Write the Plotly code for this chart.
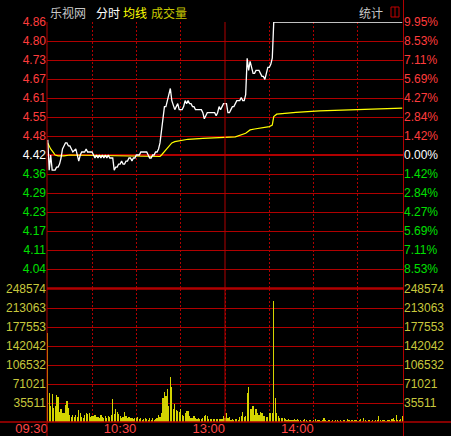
import plotly.graph_objects as go

# ---------------- data ----------------
prev_close = 4.42
limit_price = 4.86
stock_name = "乐视网"

price_labels = ["4.86", "4.80", "4.73", "4.67", "4.61", "4.55", "4.48",
                "4.42", "4.36", "4.29", "4.23", "4.17", "4.11", "4.04"]
pct_labels = ["9.95%", "8.53%", "7.11%", "5.69%", "4.27%", "2.84%", "1.42%",
              "0.00%", "1.42%", "2.84%", "4.27%", "5.69%", "7.11%", "8.53%"]
vol_labels = ["248574", "213063", "177553", "142042", "106532", "71021", "35511"]
time_labels = ["09:30", "10:30", "13:00", "14:00"]
time_label_minutes = [0, 60, 120, 180]

# minute index (0..240) / price of the white price line
price_minutes = [0, 1, 2, 3, 5, 6, 7, 8, 9, 10, 11, 12, 13, 14, 15, 16, 17, 19, 20, 21,
                 22, 23, 25, 26, 27, 29, 30, 31, 32, 33, 34, 35, 36, 37, 38, 39, 40, 41,
                 42, 43, 44, 45, 46, 47, 48, 49, 50, 51, 52, 53, 54, 55, 56, 57, 58, 59,
                 60, 61, 62, 63, 66, 67, 68, 69, 70, 71, 72, 73, 74, 75, 76, 77, 78, 79,
                 80, 81, 82, 83, 84, 85, 86, 87, 88, 89, 90, 91, 92, 93, 94, 95, 96, 97,
                 98, 99, 100, 101, 102, 103, 104, 105, 106, 107, 108, 109, 110, 111, 112,
                 113, 114, 115, 116, 117, 118, 119, 120, 121, 122, 123, 124, 125, 126, 127,
                 128, 129, 130, 131, 132, 133, 134, 135, 136, 137, 138, 139, 140, 141, 142,
                 143, 144, 145, 146, 147, 148, 149, 150, 151, 152, 153, 240]
price_values = [4.47, 4.37, 4.42, 4.37, 4.37, 4.38, 4.38, 4.39, 4.41, 4.44, 4.45, 4.46, 4.46,
                4.45, 4.45, 4.44, 4.43, 4.44, 4.42, 4.40, 4.42, 4.43, 4.43, 4.44, 4.43, 4.43,
                4.43, 4.42, 4.41, 4.42, 4.41, 4.42, 4.41, 4.42, 4.41, 4.42, 4.41, 4.42, 4.41,
                4.41, 4.41, 4.37, 4.38, 4.38, 4.39, 4.39, 4.40, 4.39, 4.39, 4.40, 4.40, 4.41,
                4.41, 4.40, 4.41, 4.41, 4.42, 4.42, 4.42, 4.43, 4.43, 4.43, 4.42, 4.41, 4.41,
                4.42, 4.42, 4.43, 4.43, 4.44, 4.46, 4.50, 4.55, 4.58, 4.58, 4.60, 4.61, 4.64,
                4.60, 4.58, 4.57, 4.58, 4.59, 4.57, 4.57, 4.57, 4.58, 4.60, 4.59, 4.60, 4.59,
                4.59, 4.58, 4.58, 4.57, 4.57, 4.57, 4.57, 4.57, 4.56, 4.54, 4.55, 4.56, 4.56,
                4.56, 4.56, 4.56, 4.56, 4.55, 4.56, 4.58, 4.57, 4.58, 4.59, 4.59, 4.59, 4.56,
                4.56, 4.57, 4.58, 4.58, 4.59, 4.60, 4.60, 4.60, 4.61, 4.60, 4.60, 4.62, 4.74,
                4.70, 4.73, 4.71, 4.69, 4.69, 4.70, 4.70, 4.70, 4.69, 4.68, 4.68, 4.67, 4.69,
                4.71, 4.71, 4.72, 4.74, 4.86, 4.86]

# yellow average-price line
avg_minutes = [0, 2, 4, 5, 7, 11, 15, 60, 76, 77, 80, 82, 84, 86, 90, 95, 105, 113, 120,
               127, 134, 137, 140, 145, 150, 152, 153, 155, 157, 162, 168, 184, 202, 223, 240]
avg_values = [4.46, 4.44, 4.427, 4.42, 4.417, 4.417, 4.42, 4.418, 4.415, 4.42, 4.437, 4.447,
              4.46, 4.464, 4.467, 4.472, 4.475, 4.477, 4.478, 4.48, 4.492, 4.503, 4.506,
              4.51, 4.514, 4.519, 4.547, 4.555, 4.556, 4.558, 4.561, 4.566, 4.569, 4.572, 4.575]

# per-minute volume, minutes 0..240
volumes = [
    166000, 55000, 30000, 52000, 26000, 30000, 50000, 47000, 19000, 24000,
    17000, 17000, 32000, 39000, 26000, 13000, 9000, 14000, 10000, 13000,
    10000, 22000, 17000, 10000, 8000, 13000, 17000, 15000, 17000, 10000,
    11000, 11000, 13000, 9000, 10000, 8000, 13000, 10000, 8000, 11000,
    8000, 11000, 10000, 13000, 43000, 15000, 24000, 19000, 15000, 11000,
    7000, 10000, 19000, 11000, 8000, 9000, 8000, 8000, 6000, 7000,
    8000, 9000, 6000, 8000, 3000, 6000, 8000, 5000, 4000, 8000,
    3000, 8000, 4000, 5000, 8000, 13000, 10000, 16000, 45000, 57000,
    49000, 62000, 30000, 84000, 65000, 24000, 33000, 22000, 21000, 19000,
    24000, 14000, 12000, 16000, 21000, 21000, 12000, 7000, 8000, 11000,
    7000, 5000, 7000, 5000, 5000, 8000, 12000, 14000, 11000, 5000,
    5000, 6000, 5000, 6000, 5000, 6000, 6000, 5000, 5000, 11000,
    8000, 16000, 8000, 9000, 3000, 5000, 3000, 6000, 5000, 4000,
    9000, 11000, 19000, 9000, 11000, 54000, 65000, 25000, 25000, 30000,
    14000, 25000, 17000, 14000, 19000, 16000, 11000, 11000, 9000, 9000,
    16000, 17000, 16000, 226000, 44000, 17000, 11000, 8000, 8000, 8000,
    7000, 6000, 3000, 6000, 4000, 3000, 3000, 6000, 3000, 6000,
    3000, 4000, 2000, 3000, 5000, 3000, 2000, 4000, 3000, 2000,
    3000, 5000, 2000, 3000, 4000, 2000, 3000, 8000, 3000, 2000,
    4000, 3000, 2000, 3000, 2000, 4000, 3000, 2000, 3000, 2000,
    3000, 4000, 2000, 6000, 3000, 2000, 3000, 2000, 4000, 3000,
    2000, 3000, 5000, 2000, 8000, 3000, 2000, 3000, 4000, 2000,
    3000, 2000, 4000, 3000, 11000, 3000, 2000, 4000, 3000, 2000,
    4000, 3000, 2000, 5000, 8000, 3000, 14000, 4000, 3000, 5000,
    11000,
]
minutes = list(range(len(volumes)))

# ---------------- styling ----------------
W, H = 451, 436
RED = "#b00000"
UP = "#ff3c3c"
DOWN = "#00e000"
VOLC = "#c8c83c"
FONT = "Liberation Sans, Arial, sans-serif"
CJK = "Noto Sans CJK SC, sans-serif"


def px(x):
    return x / W


def py(y):
    return 1 - y / H


xdom = [px(47), px(403)]
price_dom = [py(288), py(22)]
vol_dom = [py(422), py(289)]

step = (limit_price - prev_close) / 7
price_ticks = [prev_close + k * step for k in range(7, -7, -1)]
price_bottom = prev_close - (limit_price - prev_close)


def colour(i):
    if i < 7:
        return UP
    if i == 7:
        return "#ffffff"
    return DOWN


left_text = [f"<span style='color:{colour(i)}'>{t}</span>" for i, t in enumerate(price_labels)]
right_text = [f"<span style='color:{colour(i)}'>{t}</span>" for i, t in enumerate(pct_labels)]
vol_ticks = [int(v) for v in vol_labels]

grid_minutes = list(range(0, 241, 30))
time_text = []
for m in grid_minutes:
    time_text.append(time_labels[time_label_minutes.index(m)] if m in time_label_minutes else "")

fig = go.Figure()
fig.add_trace(go.Bar(x=minutes, y=volumes, xaxis="x2", yaxis="y3",
                     marker=dict(color="#d4d400", line=dict(width=0)), width=0.8,
                     hoverinfo="skip", showlegend=False))
fig.add_trace(go.Scatter(x=avg_minutes, y=avg_values, mode="lines", xaxis="x", yaxis="y",
                         line=dict(color="#ffff00", width=1.2), showlegend=False))
fig.add_trace(go.Scatter(x=price_minutes, y=price_values, mode="lines", xaxis="x", yaxis="y",
                         line=dict(color="#ffffff", width=1.3), showlegend=False))
# invisible carriers so the right-hand axes are drawn
fig.add_trace(go.Scatter(x=[minutes[0]], y=[prev_close], mode="markers", xaxis="x", yaxis="y2",
                         marker=dict(opacity=0), hoverinfo="skip", showlegend=False))
fig.add_trace(go.Scatter(x=[minutes[0]], y=[0], mode="markers", xaxis="x2", yaxis="y4",
                         marker=dict(opacity=0), hoverinfo="skip", showlegend=False))

xcommon = dict(domain=xdom, range=[-0.5, 240.5], showgrid=True, gridcolor=RED, gridwidth=1,
               griddash="2px,2px", zeroline=False, showline=False, ticks="", fixedrange=True,
               automargin=False)
ycommon = dict(zeroline=False, showline=False, ticks="", automargin=False, fixedrange=True)

fig.update_layout(
    template="none",
    width=W, height=H,
    margin=dict(l=0, r=0, t=0, b=0, pad=0, autoexpand=False),
    paper_bgcolor="black", plot_bgcolor="black",
    font=dict(family=FONT, size=12, color="white"),
    showlegend=False,
    bargap=0,
    hovermode=False,
    xaxis=dict(anchor="y", tickvals=[30, 60, 90, 150, 180, 210], showticklabels=False, **xcommon),
    xaxis2=dict(anchor="free", position=py(418.5), tickvals=grid_minutes, ticktext=time_text,
                ticklabelposition="outside left",
                tickfont=dict(family=FONT, size=13, color="#ff4646"), **xcommon),
    yaxis=dict(domain=price_dom, range=[price_bottom, limit_price], anchor="x",
               tickvals=price_ticks + [price_bottom], ticktext=left_text + [""],
               showgrid=True, gridcolor=RED, gridwidth=1,
               tickfont=dict(family=FONT, size=12), **ycommon),
    yaxis2=dict(overlaying="y", side="right", anchor="x", range=[price_bottom, limit_price],
                tickvals=price_ticks, ticktext=right_text, showgrid=False,
                tickfont=dict(family=FONT, size=12), **ycommon),
    yaxis3=dict(domain=vol_dom, range=[0, vol_ticks[0]], anchor="x2",
                tickvals=vol_ticks, ticktext=vol_labels, showgrid=True, gridcolor=RED,
                gridwidth=1, tickfont=dict(family=FONT, size=12, color=VOLC), **ycommon),
    yaxis4=dict(overlaying="y3", side="right", anchor="x2", range=[0, vol_ticks[0]],
                tickvals=vol_ticks, ticktext=vol_labels, showgrid=False,
                tickfont=dict(family=FONT, size=12, color=VOLC), **ycommon),
)

shapes = [
    # frame lines
    dict(type="line", xref="paper", yref="paper", x0=px(47), x1=px(47), y0=py(22), y1=py(436),
         line=dict(color=RED, width=1)),
    dict(type="line", xref="paper", yref="paper", x0=px(403.5), x1=px(403.5), y0=py(0), y1=py(436),
         line=dict(color=RED, width=1)),
    dict(type="line", xref="paper", yref="paper", x0=0, x1=1, y0=py(422), y1=py(422),
         line=dict(color=RED, width=1.5)),
    dict(type="line", xref="paper", yref="paper", x0=xdom[0], x1=xdom[1], y0=py(288.5), y1=py(288.5),
         line=dict(color=RED, width=2.5)),
    # midday separator
    dict(type="line", xref="x", yref="paper", x0=120, x1=120, y0=py(422), y1=py(22),
         line=dict(color=RED, width=1)),
    # previous close line
    dict(type="line", xref="paper", yref="y", x0=xdom[0], x1=xdom[1], y0=prev_close, y1=prev_close,
         line=dict(color=RED, width=2), layer="below"),
    # small icon next to 统计
    dict(type="rect", xref="paper", yref="paper", x0=px(391), x1=px(399), y0=py(17), y1=py(7),
         line=dict(color="#c00000", width=1)),
    dict(type="line", xref="paper", yref="paper", x0=px(395), x1=px(395), y0=py(17), y1=py(7),
         line=dict(color="#c00000", width=1)),
]
fig.update_layout(shapes=shapes)

header = [
    (stock_name, 48, "#c8c8c8"),
    ("分时", 94, "#ffffff"),
    ("均线", 121, "#ffff00"),
    ("成交量", 149, "#c8c800"),
    ("统计", 357, "#c8c8c8"),
]
for text, x, c in header:
    fig.add_annotation(x=px(x), y=py(12), xref="paper", yref="paper", text=text,
                       showarrow=False, xanchor="left", yanchor="middle",
                       font=dict(family=CJK, size=12, color=c))

page_fix = ("document.body.style.margin='0px';document.body.style.padding='0px';"
            "document.body.style.background='black';document.body.style.overflow='hidden';")
fig.write_html("out.html", post_script=page_fix,
               config={"displayModeBar": False, "staticPlot": True})
